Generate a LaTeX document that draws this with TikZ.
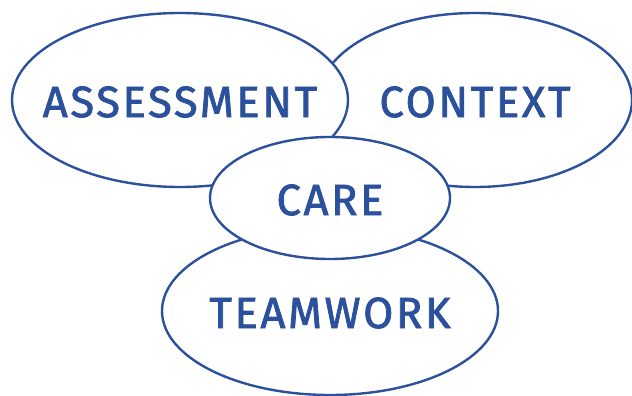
\documentclass[tikz,border=0pt]{standalone}
\usepackage{fontspec}
\setmainfont{Fira Sans}
\newfontfamily\labelfont{Fira Sans}[LetterSpace=6,FakeBold=1.8]
\usetikzlibrary{shapes.geometric}
\definecolor{careblue}{HTML}{2B519C}
\tikzstyle{blob} = [ellipse,draw=careblue,line width=1.7pt,fill=white,inner sep=0pt]
\tikzstyle{word} = [text=careblue,font=\labelfont\fontsize{31}{33}\selectfont,yshift=-.05cm]

\begin{document}
\begin{tikzpicture}
		\useasboundingbox (0,0) rectangle (15.8,9.875);
		\node [blob,minimum width=7.85cm,minimum height=4.35cm] (context) at (11.875,7.375) {};
		\node [blob,minimum width=8.4cm,minimum height=4.35cm] (assessment) at (4.5,7.375) {};
		\node [blob,minimum width=8.4cm,minimum height=4.2cm] (teamwork) at (8.25,2.1) {};
		\node [blob,minimum width=6cm,minimum height=3.05cm] (care) at (8.25,4.925) {};
		
		\node [word] (assessmenttext) at (assessment) {ASSESSMENT};
		\node [word] (contexttext) at (context) {CONTEXT};
		\node [word] (caretext) at (care) {CARE};
		\node [word] (teamworktext) at (teamwork) {TEAMWORK};
\end{tikzpicture}
\end{document}
